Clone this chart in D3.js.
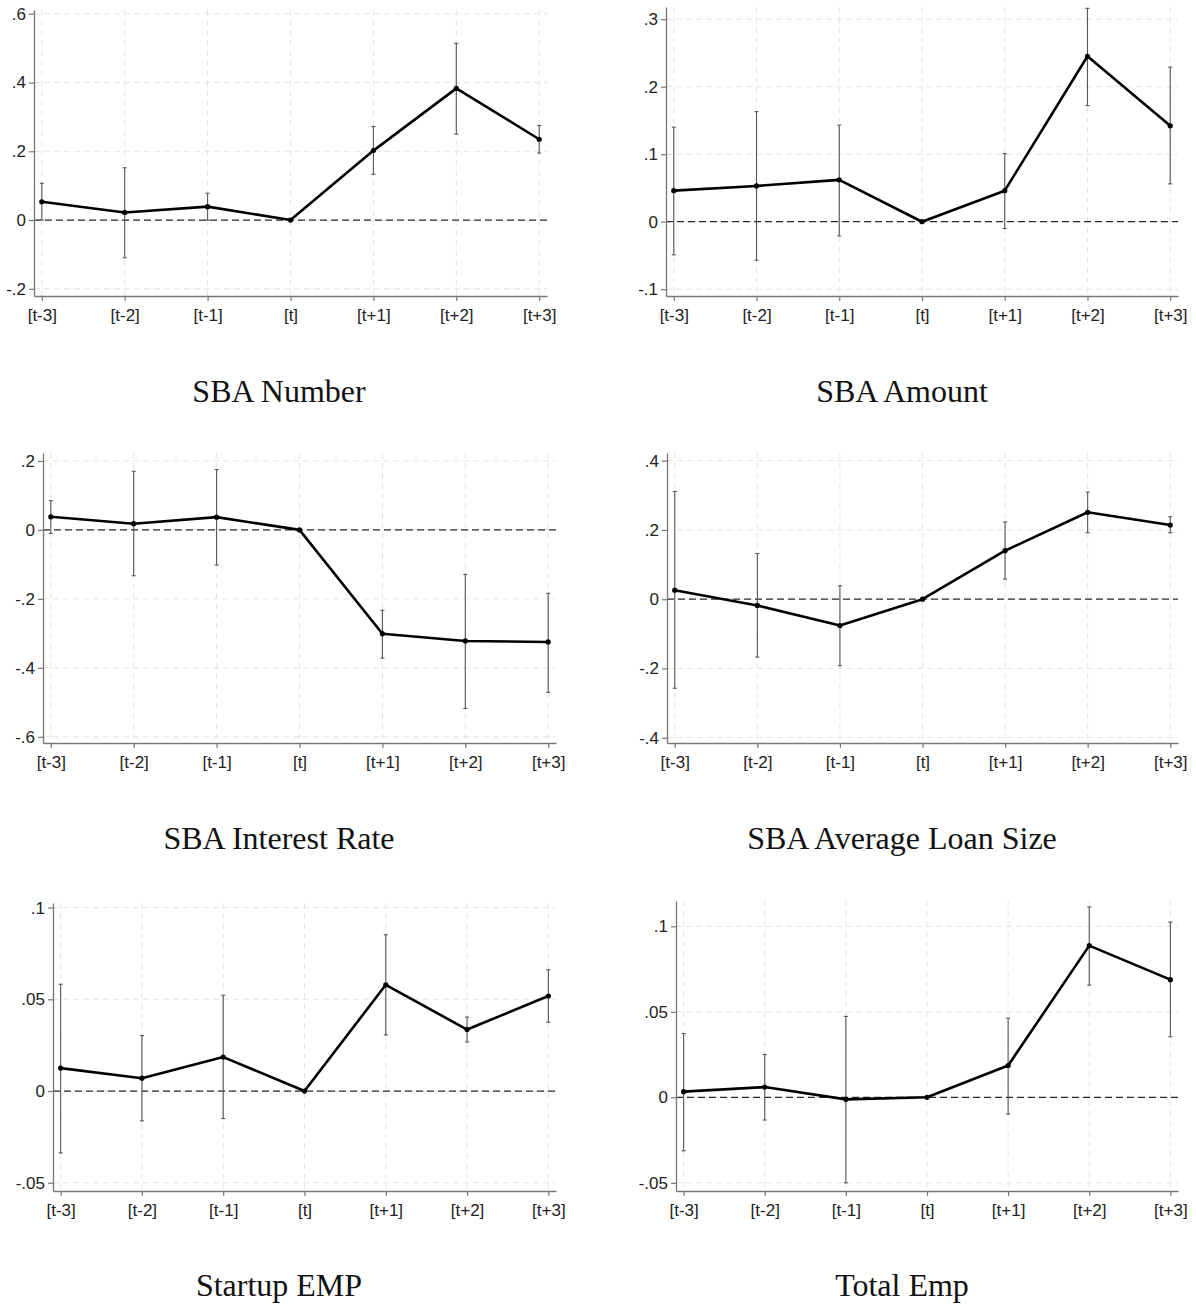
<!DOCTYPE html>
<html>
<head>
<meta charset="utf-8">
<script src="https://cdn.jsdelivr.net/npm/d3@7"></script>
<style>
  body { margin: 0; background: #fff; }
  .title { font-family: "Liberation Serif", "Times New Roman", serif; font-size: 32px; fill: #111; }
</style>
</head>
<body>
<svg id="chart"></svg>
<script>
const width = 1196;
const height = 1306;

const periods = ['[t-3]', '[t-2]', '[t-1]', '[t]', '[t+1]', '[t+2]', '[t+3]'];
const titles = ['SBA Number', 'SBA Amount', 'SBA Interest Rate', 'SBA Average Loan Size', 'Startup EMP', 'Total Emp'];

// point estimates and confidence bounds
const sbaNumber   = [0.053, 0.022, 0.039, 0, 0.202, 0.383, 0.235];
const sbaNumberLo = [0.000, -0.110, 0.000, null, 0.133, 0.250, 0.195];
const sbaNumberHi = [0.107, 0.152, 0.078, null, 0.272, 0.514, 0.275];

const sbaAmount   = [0.046, 0.053, 0.062, 0, 0.046, 0.245, 0.142];
const sbaAmountLo = [-0.049, -0.057, -0.021, null, -0.010, 0.172, 0.056];
const sbaAmountHi = [0.140, 0.163, 0.143, null, 0.101, 0.316, 0.229];

const sbaRate   = [0.038, 0.018, 0.037, 0, -0.301, -0.322, -0.325];
const sbaRateLo = [-0.010, -0.133, -0.102, null, -0.372, -0.518, -0.471];
const sbaRateHi = [0.085, 0.170, 0.175, null, -0.233, -0.129, -0.184];

const sbaSize   = [0.026, -0.018, -0.076, 0, 0.140, 0.251, 0.214];
const sbaSizeLo = [-0.257, -0.167, -0.192, null, 0.058, 0.192, 0.192];
const sbaSizeHi = [0.311, 0.132, 0.039, null, 0.223, 0.309, 0.238];

const startupEmp   = [0.0125, 0.0070, 0.0185, 0, 0.0579, 0.0335, 0.0518];
const startupEmpLo = [-0.0337, -0.0163, -0.0150, null, 0.0306, 0.0267, 0.0375];
const startupEmpHi = [0.0582, 0.0302, 0.0522, null, 0.0852, 0.0403, 0.0661];

const totalEmp   = [0.0033, 0.0060, -0.0012, 0, 0.0186, 0.0887, 0.0688];
const totalEmpLo = [-0.0313, -0.0133, -0.0500, null, -0.0098, 0.0656, 0.0354];
const totalEmpHi = [0.0373, 0.0250, 0.0473, null, 0.0463, 0.1113, 0.1025];

const yTicks = [
  [-0.2, 0, 0.2, 0.4, 0.6],
  [-0.1, 0, 0.1, 0.2, 0.3],
  [-0.6, -0.4, -0.2, 0, 0.2],
  [-0.4, -0.2, 0, 0.2, 0.4],
  [-0.05, 0, 0.05, 0.1],
  [-0.05, 0, 0.05, 0.1]
];
const yDomains = [
  [-0.221, 0.611],
  [-0.110, 0.318],
  [-0.618, 0.223],
  [-0.415, 0.422],
  [-0.0545, 0.1025],
  [-0.0548, 0.1148]
];

const estimates = [sbaNumber, sbaAmount, sbaRate, sbaSize, startupEmp, totalEmp];
const lows = [sbaNumberLo, sbaAmountLo, sbaRateLo, sbaSizeLo, startupEmpLo, totalEmpLo];
const highs = [sbaNumberHi, sbaAmountHi, sbaRateHi, sbaSizeHi, startupEmpHi, totalEmpHi];

// plot boxes (left, right, top, bottom) and title anchors
const boxes = [
  { x0: 34, x1: 547, y0: 10, y1: 296, tx: 279, ty: 395 },
  { x0: 666, x1: 1178, y0: 7, y1: 296, tx: 902, ty: 395 },
  { x0: 43, x1: 556, y0: 453, y1: 743, tx: 279, ty: 842 },
  { x0: 667, x1: 1178, y0: 453, y1: 743, tx: 902, ty: 842 },
  { x0: 53, x1: 556, y0: 903, y1: 1191, tx: 279, ty: 1289 },
  { x0: 676, x1: 1178, y0: 901, y1: 1191, tx: 902, ty: 1289 }
];

const fmt = d => d === 0 ? '0' : String(d).replace('0.', '.');

const svg = d3.select('#chart').attr('width', width).attr('height', height);

titles.forEach((title, p) => {
  const b = boxes[p];
  const rows = periods.map((label, i) => ({
    label: label, est: estimates[p][i], lo: lows[p][i], hi: highs[p][i]
  }));

  const xScale = d3.scalePoint().domain(periods).range([b.x0, b.x1]).padding(0.094);
  const yScale = d3.scaleLinear().domain(yDomains[p]).range([b.y1, b.y0]);

  const g = svg.append('g');

  // grid
  g.selectAll('.hgrid')
    .data(yTicks[p])
    .enter()
    .append('line')
    .attr('x1', b.x0).attr('x2', b.x1)
    .attr('y1', d => yScale(d)).attr('y2', d => yScale(d))
    .attr('stroke', '#e4e4e4').attr('stroke-width', 1)
    .attr('stroke-dasharray', '6,4');
  g.selectAll('.vgrid')
    .data(periods)
    .enter()
    .append('line')
    .attr('x1', d => xScale(d)).attr('x2', d => xScale(d))
    .attr('y1', b.y0).attr('y2', b.y1)
    .attr('stroke', '#e4e4e4').attr('stroke-width', 1)
    .attr('stroke-dasharray', '6,4');

  // zero line
  g.append('line')
    .attr('x1', b.x0).attr('x2', b.x1)
    .attr('y1', yScale(0)).attr('y2', yScale(0))
    .attr('stroke', '#2a2a2a').attr('stroke-width', 1.3)
    .attr('stroke-dasharray', '7,4');

  // axes
  const xAxis = g.append('g')
    .attr('transform', `translate(0, ${b.y1})`)
    .call(d3.axisBottom(xScale).tickSize(5).tickSizeOuter(0).tickPadding(6));
  const yAxis = g.append('g')
    .attr('transform', `translate(${b.x0}, 0)`)
    .call(d3.axisLeft(yScale).tickValues(yTicks[p]).tickFormat(fmt).tickSize(5).tickSizeOuter(0).tickPadding(3));
  [xAxis, yAxis].forEach(a => {
    a.attr('font-family', '"Liberation Sans", Arial, sans-serif').attr('font-size', 17);
    a.select('.domain').attr('stroke', '#777').attr('stroke-width', 1.3);
    a.selectAll('.tick line').attr('stroke', '#777').attr('stroke-width', 1.2);
    a.selectAll('.tick text').attr('fill', '#222');
  });
  xAxis.selectAll('.tick text').attr('dy', '0.85em');

  // confidence intervals
  const ci = rows.filter(d => d.lo !== null);
  g.selectAll('.ci')
    .data(ci)
    .enter()
    .append('line')
    .attr('x1', d => xScale(d.label)).attr('x2', d => xScale(d.label))
    .attr('y1', d => yScale(d.lo)).attr('y2', d => yScale(d.hi))
    .attr('stroke', '#555').attr('stroke-width', 1.1);
  ['lo', 'hi'].forEach(k => {
    g.selectAll('.cap-' + k)
      .data(ci)
      .enter()
      .append('line')
      .attr('x1', d => xScale(d.label) - 2).attr('x2', d => xScale(d.label) + 2)
      .attr('y1', d => yScale(d[k])).attr('y2', d => yScale(d[k]))
      .attr('stroke', '#555').attr('stroke-width', 1.1);
  });

  // estimate line
  g.append('path')
    .datum(rows)
    .attr('fill', 'none')
    .attr('stroke', '#000')
    .attr('stroke-width', 2.6)
    .attr('stroke-linejoin', 'round')
    .attr('d', d3.line().x(d => xScale(d.label)).y(d => yScale(d.est)));

  g.selectAll('.dot')
    .data(rows)
    .enter()
    .append('circle')
    .attr('cx', d => xScale(d.label))
    .attr('cy', d => yScale(d.est))
    .attr('r', 2.6)
    .attr('fill', '#000');

  svg.append('text')
    .attr('class', 'title')
    .attr('x', b.tx)
    .attr('y', b.ty)
    .attr('text-anchor', 'middle')
    .attr('dominant-baseline', 'middle')
    .text(title);
});
</script>
</body>
</html>
